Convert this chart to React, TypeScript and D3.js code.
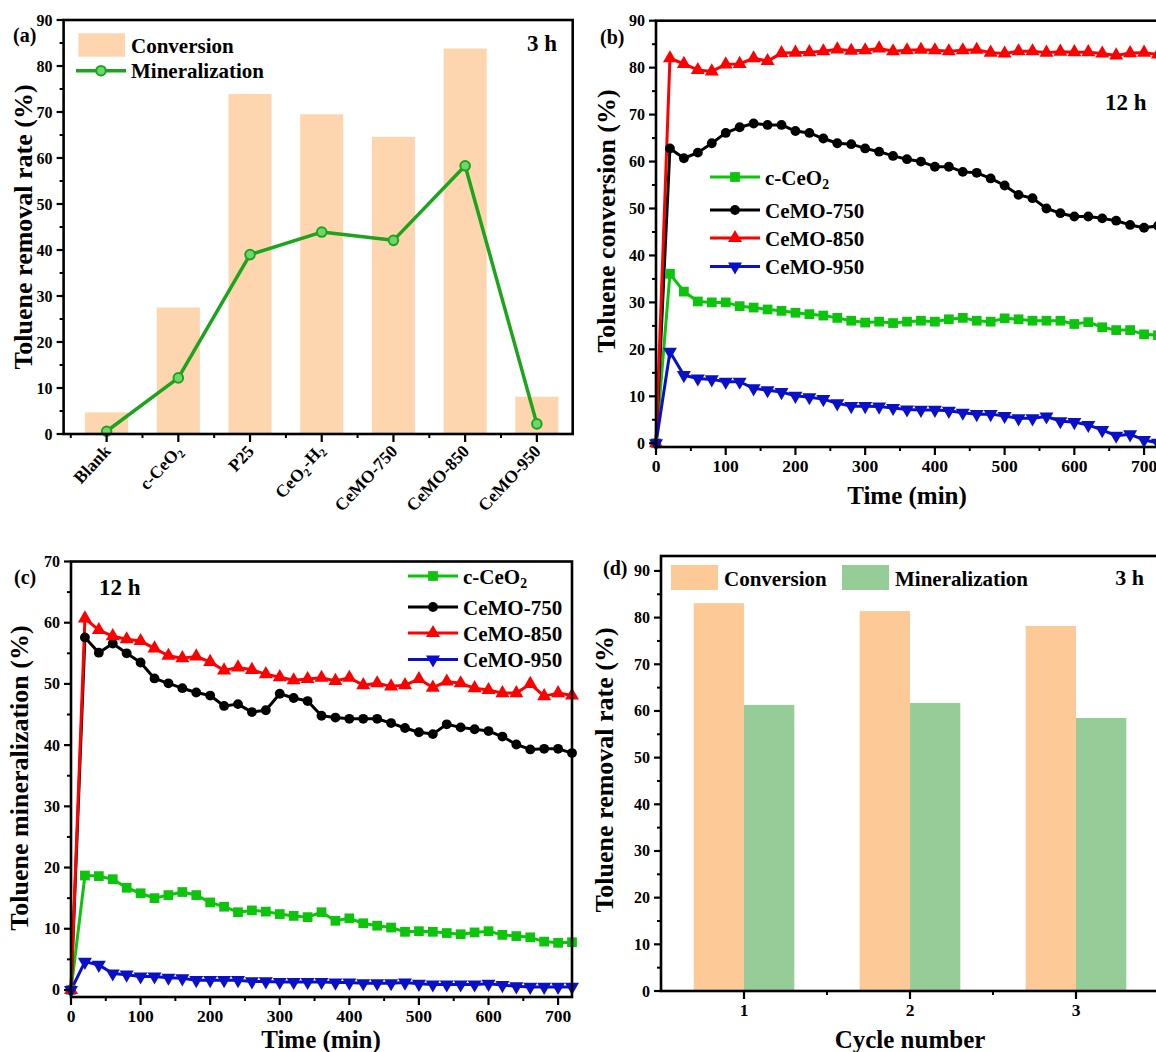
import React, { useRef, useEffect } from "react";
import * as d3 from "d3";

const fontFamily = "'Liberation Serif', 'Times New Roman', Times, serif";

// (a) 3 h screening of the samples
const samplesA = ["Blank", "c-CeO2", "P25", "CeO2-H2", "CeMO-750", "CeMO-850", "CeMO-950"];
const conversionA = [4.7, 27.5, 73.9, 69.5, 64.6, 83.8, 8.1];
const mineralizationA = [0.6, 12.2, 39.0, 43.9, 42.1, 58.3, 2.2];

// (b)/(c) 12 h runs, one point every 20 min
const timeMin = [0, 20, 40, 60, 80, 100, 120, 140, 160, 180, 200, 220, 240, 260, 280, 300, 320, 340, 360,
  380, 400, 420, 440, 460, 480, 500, 520, 540, 560, 580, 600, 620, 640, 660, 680, 700, 720];
const seriesNames = ["c-CeO2", "CeMO-750", "CeMO-850", "CeMO-950"];

const convCeO2 = [0, 36.1, 32.3, 30.2, 30.0, 30.0, 29.2, 28.9, 28.5, 28.2, 27.8, 27.5, 27.2, 26.7, 26.1, 25.7,
  25.9, 25.6, 25.9, 26.1, 25.9, 26.4, 26.7, 26.1, 25.9, 26.6, 26.4, 26.1, 26.1, 26.1, 25.4, 25.8, 24.7, 24.1, 24.1, 23.2, 23.0];
const conv750 = [0, 62.8, 60.7, 61.9, 63.9, 66.1, 67.3, 68.1, 67.8, 67.8, 66.5, 66.1, 64.9, 63.9, 63.7, 62.8,
  62.1, 61.2, 60.5, 60.0, 58.9, 58.9, 57.8, 57.6, 56.4, 54.9, 52.9, 52.2, 50.0, 49.0, 48.3, 48.3, 47.9, 47.4, 46.5, 45.9, 46.3];
const conv850 = [0, 82.0, 80.8, 79.5, 79.2, 80.7, 80.8, 82.0, 81.4, 83.1, 83.2, 83.3, 83.5, 83.9, 83.6, 83.7,
  84.1, 83.5, 83.7, 83.8, 83.7, 83.5, 83.7, 83.8, 83.2, 83.0, 83.5, 83.5, 83.2, 83.4, 83.3, 83.3, 83.0, 82.6, 83.1, 83.2, 82.8];
const conv950 = [0, 19.5, 14.5, 13.8, 13.6, 13.1, 13.1, 11.7, 11.3, 10.9, 10.1, 9.8, 9.4, 8.5, 7.9, 7.9,
  7.8, 7.5, 7.2, 7.1, 7.1, 6.9, 6.5, 6.2, 6.2, 5.8, 5.3, 5.3, 5.7, 4.7, 4.5, 3.9, 2.8, 1.6, 1.9, 0.7, 0.1];

const minCeO2 = [0, 18.7, 18.6, 18.1, 16.7, 15.8, 15.0, 15.5, 16.0, 15.5, 14.3, 13.6, 12.7, 13.0, 12.8, 12.4,
  12.1, 11.9, 12.7, 11.3, 11.7, 10.9, 10.5, 10.2, 9.5, 9.6, 9.5, 9.3, 9.1, 9.4, 9.6, 9.0, 8.8, 8.6, 7.9, 7.7, 7.8];
const min750 = [0, 57.6, 55.1, 56.6, 55.0, 53.5, 50.9, 50.1, 49.3, 48.6, 48.1, 46.4, 46.7, 45.4, 45.7, 48.4,
  47.7, 47.2, 44.8, 44.5, 44.3, 44.3, 44.3, 43.6, 42.8, 42.1, 41.8, 43.4, 42.9, 42.6, 42.3, 41.4, 40.1, 39.3, 39.4, 39.4, 38.7];
const min850 = [0, 60.7, 58.8, 57.8, 57.3, 57.0, 55.8, 54.6, 54.2, 54.5, 53.6, 52.2, 52.7, 52.3, 51.6, 51.1,
  50.6, 50.8, 51.0, 50.5, 51.0, 49.8, 50.1, 49.6, 49.8, 50.8, 49.4, 50.4, 50.1, 49.3, 49.0, 48.5, 48.5, 50.0, 48.0, 48.5, 48.1];
const min950 = [0, 4.6, 4.1, 2.7, 2.5, 2.2, 2.2, 2.0, 1.9, 1.6, 1.6, 1.6, 1.6, 1.4, 1.4, 1.3,
  1.3, 1.3, 1.3, 1.2, 1.2, 1.1, 1.1, 1.1, 1.2, 1.0, 0.9, 0.9, 0.9, 0.9, 1.0, 0.8, 0.6, 0.5, 0.5, 0.5, 0.5];

// (d) recycling test
const cycles = [1, 2, 3];
const cycleConversion = [83.1, 81.4, 78.2];
const cycleMineralization = [61.3, 61.7, 58.5];

// ticks
const ticks90 = [0, 10, 20, 30, 40, 50, 60, 70, 80, 90];
const ticks70 = [0, 10, 20, 30, 40, 50, 60, 70];
const timeTicks = [0, 100, 200, 300, 400, 500, 600, 700];

// styles
const barPeach = "#FDD5AE";
const convColor = "#FDCA97";
const minColor = "#95CC97";
const lineGreenA = "#1ca51c";
const seriesColors = ["#0cc40c", "#000000", "#ff0000", "#0a10c8"];
const seriesSymbols = [d3.symbolSquare, d3.symbolCircle, d3.symbolTriangle, d3.symbolTriangle];
const seriesRotate = [0, 0, 0, 180];
const seriesSize = [95, 76, 85, 85];

function subParts(name: string): [string, boolean][] {
  if (name === "c-CeO2") return [["c-CeO", false], ["2", true]];
  if (name === "CeO2-H2") return [["CeO", false], ["2", true], ["-H", false], ["2", true]];
  return [[name, false]];
}

function writeLabel(text: any, name: string) {
  const parts = subParts(name);
  let inSub = false;
  parts.forEach(([s, sub]) => {
    const t = text.append("tspan").text(s);
    if (sub && !inSub) t.attr("font-size", "0.65em").attr("dy", "0.3em");
    if (!sub && inSub) t.attr("dy", "-0.3em");
    inSub = sub;
  });
}

function minorOf(major: number[], step: number, lo: number, hi: number) {
  return major.map(v => v + step).filter(v => v > lo && v < hi);
}

function drawTicks(g: any, x: any, y: any, cfg: any) {
  const [xl] = x.range();
  const [yb] = y.range();
  g.append("g").selectAll("line").data(cfg.yMinor).join("line")
    .attr("x1", xl).attr("x2", xl - 4).attr("y1", (d: number) => y(d)).attr("y2", (d: number) => y(d))
    .attr("stroke", "#000").attr("stroke-width", 2);
  g.append("g").selectAll("line").data(cfg.yMajor).join("line")
    .attr("x1", xl).attr("x2", xl - 7).attr("y1", (d: number) => y(d)).attr("y2", (d: number) => y(d))
    .attr("stroke", "#000").attr("stroke-width", 2.2);
  g.append("g").selectAll("text").data(cfg.yMajor).join("text")
    .attr("x", xl - 11).attr("y", (d: number) => y(d) + 5.5)
    .attr("text-anchor", "end").attr("font-size", 16).attr("font-weight", "bold")
    .text((d: number) => d);

  g.append("g").selectAll("line").data(cfg.xMinor).join("line")
    .attr("x1", (d: number) => x(d)).attr("x2", (d: number) => x(d)).attr("y1", yb).attr("y2", yb + 4)
    .attr("stroke", "#000").attr("stroke-width", 2);
  g.append("g").selectAll("line").data(cfg.xMajor).join("line")
    .attr("x1", (d: number) => x(d)).attr("x2", (d: number) => x(d)).attr("y1", yb).attr("y2", yb + 8)
    .attr("stroke", "#000").attr("stroke-width", 2.2);
  if (cfg.xLabels) {
    g.append("g").selectAll("text").data(cfg.xMajor).join("text")
      .attr("x", (d: number) => x(d)).attr("y", yb + 25)
      .attr("text-anchor", "middle").attr("font-size", 17.5).attr("font-weight", "bold")
      .text((d: number) => d);
  }
}

function drawBox(g: any, x: any, y: any) {
  const [xl, xr] = x.range();
  const [yb, yt] = y.range();
  g.append("rect").attr("x", xl).attr("y", yt).attr("width", xr - xl).attr("height", yb - yt)
    .attr("fill", "none").attr("stroke", "#000").attr("stroke-width", 2.6);
}

function yTitle(g: any, x: number, y: number, label: string) {
  g.append("text").attr("transform", `translate(${x},${y}) rotate(-90)`)
    .attr("text-anchor", "middle").attr("font-size", 26).attr("font-weight", "bold").text(label);
}

function plainText(g: any, x: number, y: number, label: string, size: number, anchor = "start") {
  return g.append("text").attr("x", x).attr("y", y).attr("text-anchor", anchor)
    .attr("font-size", size).attr("font-weight", "bold").text(label);
}

function drawSeriesPanel(svg: any, x: any, y: any, series: number[][], legendX: number, legendYs: number[]) {
  const g = svg.append("g");
  const line = d3.line<number>().x((d, i) => x(timeMin[i])).y(d => y(d));
  series.forEach((vals, s) => {
    g.append("path").attr("d", line(vals)).attr("fill", "none")
      .attr("stroke", seriesColors[s]).attr("stroke-width", 3).attr("stroke-linejoin", "round");
  });
  series.forEach((vals, s) => {
    const sym = d3.symbol().type(seriesSymbols[s]).size(seriesSize[s]);
    g.append("g").selectAll("path").data(vals).join("path")
      .attr("d", sym())
      .attr("transform", (d: number, i: number) => `translate(${x(timeMin[i])},${y(d)}) rotate(${seriesRotate[s]})`)
      .attr("fill", seriesColors[s]);
  });
  // legend
  seriesNames.forEach((name, s) => {
    const ly = legendYs[s];
    g.append("line").attr("x1", legendX).attr("x2", legendX + 50).attr("y1", ly).attr("y2", ly)
      .attr("stroke", seriesColors[s]).attr("stroke-width", 3);
    const sym = d3.symbol().type(seriesSymbols[s]).size(seriesSize[s]);
    g.append("path").attr("d", sym())
      .attr("transform", `translate(${legendX + 25},${ly}) rotate(${seriesRotate[s]})`)
      .attr("fill", seriesColors[s]);
    const t = g.append("text").attr("x", legendX + 55).attr("y", ly + 7.5)
      .attr("font-size", 21).attr("font-weight", "bold");
    writeLabel(t, name);
  });
  return g;
}

export default function App() {
  const ref = useRef<SVGSVGElement>(null);

  useEffect(() => {
    const svg = d3.select(ref.current);
    svg.selectAll("*").remove();
    svg.append("rect").attr("width", 1156).attr("height", 1052).attr("fill", "#fff");

    // ---------- (a) ----------
    const xA = d3.scaleLinear().domain([0.4, 7.5]).range([63.6, 572.7]);
    const yA = d3.scaleLinear().domain([0, 90]).range([434, 20]);
    const gA = svg.append("g");
    const idxA = samplesA.map((_, i) => i + 1);
    const bw = 0.6;
    gA.selectAll("rect.bar").data(conversionA).join("rect").attr("class", "bar")
      .attr("x", (d, i) => xA(i + 1 - bw / 2)).attr("width", xA(1 + bw) - xA(1))
      .attr("y", d => yA(d)).attr("height", d => yA(0) - yA(d)).attr("fill", barPeach);
    const lineA = d3.line<number>().x((d, i) => xA(i + 1)).y(d => yA(d));
    gA.append("path").attr("d", lineA(mineralizationA)).attr("fill", "none")
      .attr("stroke", lineGreenA).attr("stroke-width", 3.5).attr("stroke-linejoin", "round");
    gA.selectAll("circle.mk").data(mineralizationA).join("circle").attr("class", "mk")
      .attr("cx", (d, i) => xA(i + 1)).attr("cy", d => yA(d)).attr("r", 4.8)
      .attr("fill", "#6fd66f").attr("stroke", lineGreenA).attr("stroke-width", 2);
    drawTicks(gA, xA, yA, {
      yMajor: ticks90, yMinor: minorOf(ticks90, 5, 0, 90),
      xMajor: idxA, xMinor: minorOf(idxA, -0.5, 0.4, 7.5), xLabels: false
    });
    samplesA.forEach((name, i) => {
      const t = gA.append("text")
        .attr("transform", `translate(${xA(i + 1) + 5},${452}) rotate(-47)`)
        .attr("text-anchor", "end").attr("font-size", 17.5).attr("font-weight", "bold");
      writeLabel(t, name);
    });
    drawBox(gA, xA, yA);
    yTitle(gA, 32, 227, "Toluene removal rate (%)");
    plainText(gA, 13, 42, "(a)", 20);
    plainText(gA, 557, 51, "3 h", 23, "end");
    // legend (a)
    gA.append("rect").attr("x", 78.4).attr("y", 33.3).attr("width", 46.6).attr("height", 23.4).attr("fill", barPeach);
    plainText(gA, 131, 53, "Conversion", 21);
    gA.append("line").attr("x1", 76).attr("x2", 126).attr("y1", 70.7).attr("y2", 70.7)
      .attr("stroke", lineGreenA).attr("stroke-width", 3.5);
    gA.append("circle").attr("cx", 101).attr("cy", 70.7).attr("r", 4.8)
      .attr("fill", "#6fd66f").attr("stroke", lineGreenA).attr("stroke-width", 2);
    plainText(gA, 131, 78, "Mineralization", 21);

    // ---------- (b) ----------
    const xB = d3.scaleLinear().domain([0, 720]).range([656, 1158]);
    const yB = d3.scaleLinear().domain([-0.8, 90]).range([447, 20.7]);
    const gB = drawSeriesPanel(svg, xB, yB, [convCeO2, conv750, conv850, conv950], 710, [177, 210, 238, 266.5]);
    drawTicks(gB, xB, yB, {
      yMajor: ticks90, yMinor: minorOf(ticks90, 5, 0, 90),
      xMajor: timeTicks, xMinor: minorOf(timeTicks, 50, 0, 720), xLabels: true
    });
    drawBox(gB, xB, yB);
    yTitle(gB, 615, 221, "Toluene conversion (%)");
    plainText(gB, 907, 504, "Time (min)", 25, "middle");
    plainText(gB, 600, 44, "(b)", 20);
    plainText(gB, 1105, 110, "12 h", 23);

    // ---------- (c) ----------
    const xC = d3.scaleLinear().domain([0, 720]).range([71, 572]);
    const yC = d3.scaleLinear().domain([-1.15, 70]).range([997, 561.5]);
    const gC = drawSeriesPanel(svg, xC, yC, [minCeO2, min750, min850, min950], 408, [576, 607, 633, 659.5]);
    drawTicks(gC, xC, yC, {
      yMajor: ticks70, yMinor: minorOf(ticks70, 5, 0, 70),
      xMajor: timeTicks, xMinor: minorOf(timeTicks, 50, 0, 720), xLabels: true
    });
    drawBox(gC, xC, yC);
    yTitle(gC, 28, 778, "Toluene mineralization (%)");
    plainText(gC, 321, 1048, "Time (min)", 25, "middle");
    plainText(gC, 14, 584, "(c)", 20);
    plainText(gC, 99, 595, "12 h", 23);

    // ---------- (d) ----------
    const xD = d3.scaleLinear().domain([0.5, 3.5]).range([661, 1159]);
    const yD = d3.scaleLinear().domain([0, 93.2]).range([991, 556]);
    const gD = svg.append("g");
    const bwD = 0.303;
    gD.selectAll("rect.conv").data(cycleConversion).join("rect").attr("class", "conv")
      .attr("x", (d, i) => xD(cycles[i] - bwD)).attr("width", xD(1 + bwD) - xD(1))
      .attr("y", d => yD(d)).attr("height", d => yD(0) - yD(d)).attr("fill", convColor);
    gD.selectAll("rect.min").data(cycleMineralization).join("rect").attr("class", "min")
      .attr("x", (d, i) => xD(cycles[i])).attr("width", xD(1 + bwD) - xD(1))
      .attr("y", d => yD(d)).attr("height", d => yD(0) - yD(d)).attr("fill", minColor);
    drawTicks(gD, xD, yD, {
      yMajor: ticks90, yMinor: minorOf(ticks90, 5, 0, 93),
      xMajor: cycles, xMinor: minorOf(cycles, 0.5, 0.5, 3.5), xLabels: true
    });
    drawBox(gD, xD, yD);
    yTitle(gD, 613, 770, "Toluene removal rate (%)");
    plainText(gD, 910, 1048, "Cycle number", 25, "middle");
    plainText(gD, 603, 575, "(d)", 20);
    plainText(gD, 1144, 585, "3 h", 22, "end");
    gD.append("rect").attr("x", 671).attr("y", 565).attr("width", 47).attr("height", 25).attr("fill", convColor);
    plainText(gD, 724, 586, "Conversion", 21);
    gD.append("rect").attr("x", 842).attr("y", 565).attr("width", 47).attr("height", 25).attr("fill", minColor);
    plainText(gD, 895, 586, "Mineralization", 21);
  }, []);

  return (
    <svg
      ref={ref}
      width={1156}
      height={1052}
      style={{ position: "absolute", left: 0, top: 0, display: "block", fontFamily }}
    />
  );
}
